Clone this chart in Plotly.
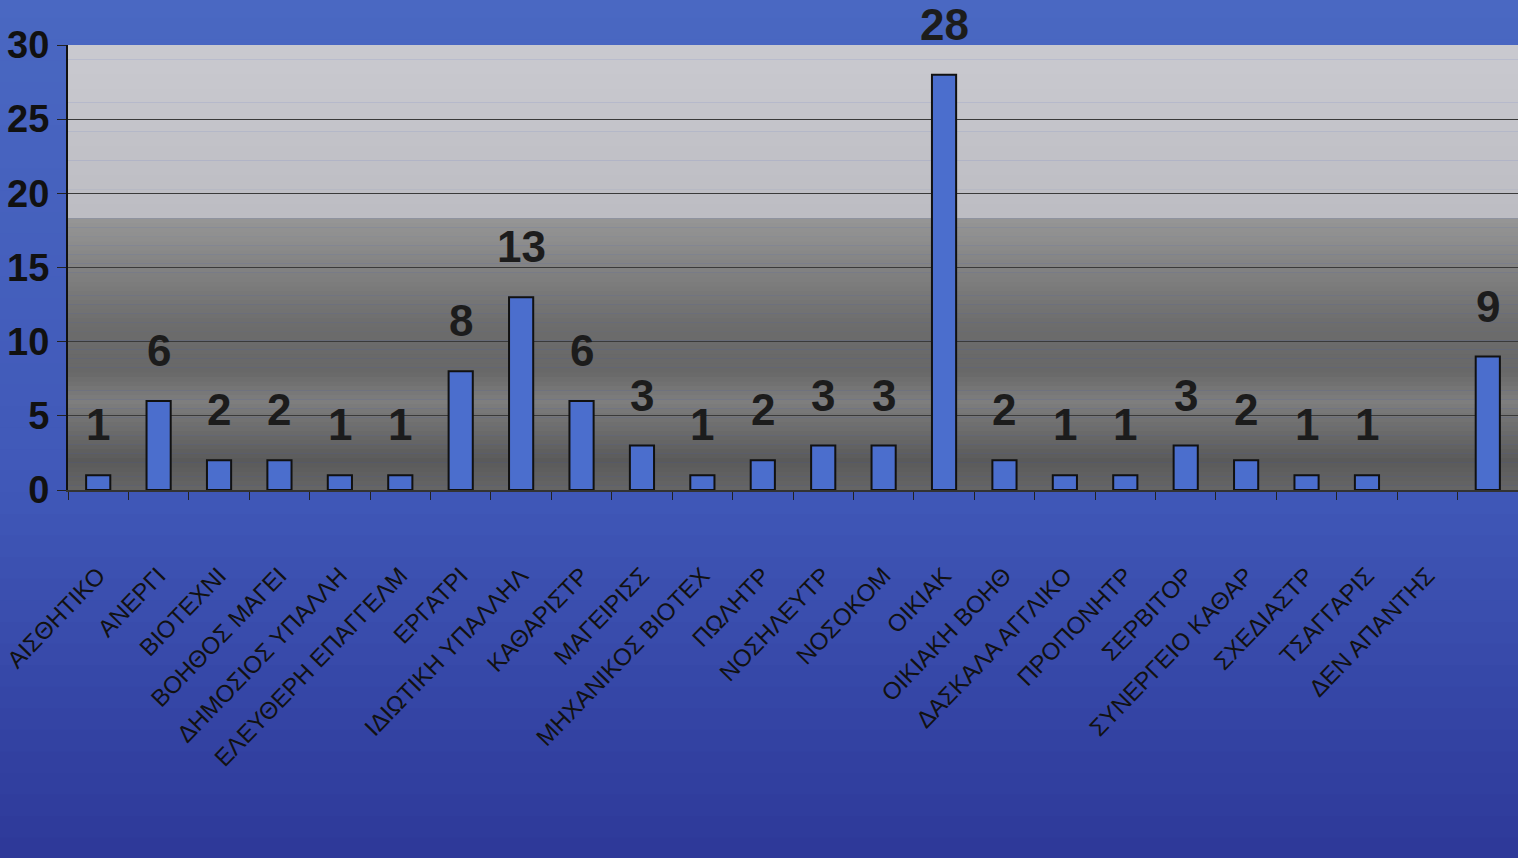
import numpy as np
import plotly.graph_objects as go

# occupations (labels as truncated on the original slide)
categories = ["ΑΙΣΘΗΤΙΚΟ", "ΑΝΕΡΓΙ", "ΒΙΟΤΕΧΝΙ", "ΒΟΗΘΟΣ ΜΑΓΕΙ", "ΔΗΜΟΣΙΟΣ ΥΠΑΛΛΗ",
              "ΕΛΕΥΘΕΡΗ ΕΠΑΓΓΕΛΜ", "ΕΡΓΑΤΡΙ", "ΙΔΙΩΤΙΚΗ ΥΠΑΛΛΗΛ", "ΚΑΘΑΡΙΣΤΡ", "ΜΑΓΕΙΡΙΣΣ",
              "ΜΗΧΑΝΙΚΟΣ ΒΙΟΤΕΧ", "ΠΩΛΗΤΡ", "ΝΟΣΗΛΕΥΤΡ", "ΝΟΣΟΚΟΜ", "ΟΙΚΙΑΚ",
              "ΟΙΚΙΑΚΗ ΒΟΗΘ", "ΔΑΣΚΑΛΑ ΑΓΓΛΙΚΟ", "ΠΡΟΠΟΝΗΤΡ", "ΣΕΡΒΙΤΟΡ", "ΣΥΝΕΡΓΕΙΟ ΚΑΘΑΡ",
              "ΣΧΕΔΙΑΣΤΡ", "ΤΣΑΓΓΑΡΙΣ", "ΔΕΝ ΑΠΑΝΤΗΣ", ""]
values = [1, 6, 2, 2, 1, 1, 8, 13, 6, 3, 1, 2, 3, 3, 28, 2, 1, 1, 3, 2, 1, 1, None, 9]
y_ticks = [0, 5, 10, 15, 20, 25, 30]

FONT = "Liberation Sans, Arial, sans-serif"
xs = [str(i) for i in range(len(values))]

fig = go.Figure()
fig.add_trace(go.Bar(x=xs, y=values, marker=dict(color="#4b6ecd", line=dict(color="#111", width=2)),
                     width=0.4, hoverinfo="y"))

for x, v in zip(xs, values):
    if v is None:
        continue
    fig.add_annotation(x=x, y=v, text=f"<b>{v}</b>", showarrow=False, yanchor="bottom", yshift=24,
                       font=dict(family=FONT, size=44, color="#1c1c1c"))

shapes = []
# blue page background gradient
top_px, bot_px = 1.11, -0.83
n = 40
edges = np.linspace(bot_px, top_px, n + 1)
for a, b in zip(edges[:-1], edges[1:]):
    m = (a + b) / 2
    r = np.interp(m, [bot_px, 0, top_px], [45, 64, 74])
    g = np.interp(m, [bot_px, 0, top_px], [56, 88, 104])
    bl = np.interp(m, [bot_px, 0, top_px], [152, 184, 194])
    shapes.append(dict(type="rect", xref="paper", yref="paper", x0=-0.1, x1=1.1, y0=a, y1=b + 0.002,
                       line=dict(width=0), fillcolor=f"rgb({r:.0f},{g:.0f},{bl:.0f})", layer="below"))

# light upper band of the plot area
light_edges = np.linspace(18.3, 30, 13)
for a, b in zip(light_edges[:-1], light_edges[1:]):
    c = np.interp((a + b) / 2, [18.3, 30], [188, 202])
    shapes.append(dict(type="rect", xref="paper", yref="y", x0=0, x1=1, y0=a, y1=b + 0.02,
                       line=dict(width=0), fillcolor=f"rgb({c:.0f},{c:.0f},{c + 6:.0f})", layer="below"))

# darker, cloudy lower band
stops_v = [0, 2, 4.5, 6, 8, 11, 15, 18.3]
stops_c = [102, 90, 112, 126, 104, 108, 130, 150]
dark_edges = np.linspace(0, 18.3, 61)
for a, b in zip(dark_edges[:-1], dark_edges[1:]):
    c = np.interp((a + b) / 2, stops_v, stops_c)
    shapes.append(dict(type="rect", xref="paper", yref="y", x0=0, x1=1, y0=a, y1=b + 0.02,
                       line=dict(width=0), fillcolor=f"rgb({c:.0f},{c:.0f},{c:.0f})", layer="below"))

fig.update_layout(
    width=1518, height=858,
    margin=dict(l=68, r=0, t=45, b=368, autoexpand=False),
    paper_bgcolor="#4a66bf", plot_bgcolor="#777",
    showlegend=False, bargap=0.6, shapes=shapes,
    xaxis=dict(type="category", tickmode="array", tickvals=xs, ticktext=categories,
               tickangle=-46, tickfont=dict(family=FONT, size=24, color="#111"),
               ticks="outside", tickson="boundaries", ticklen=8, tickcolor="#222",
               showline=True, linecolor="#333", linewidth=2, showgrid=False,
               ticklabelstandoff=60, automargin=False),
    yaxis=dict(range=[0, 30], tickvals=y_ticks, ticktext=[f"<b>{t}</b>" for t in y_ticks],
               tickfont=dict(family=FONT, size=38, color="#111"),
               ticks="outside", ticklen=9, tickcolor="#222", showline=True, linecolor="#111", linewidth=2,
               gridcolor="#3a3a3a", gridwidth=1, zeroline=False, ticklabelstandoff=0, automargin=False),
)

fig.write_html("out.html", config={"displayModeBar": False},
               post_script="document.body.style.margin='0';document.body.style.overflow='hidden';")
